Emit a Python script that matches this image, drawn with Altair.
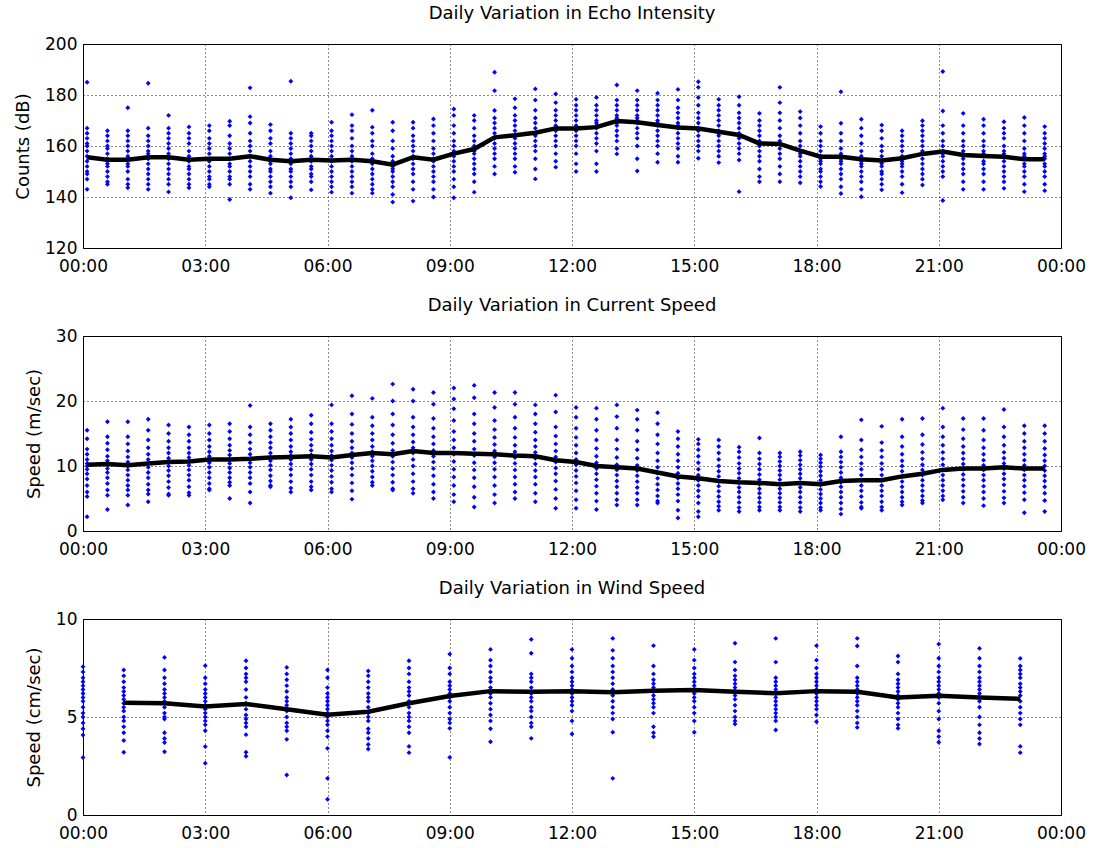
import altair as alt
import pandas as pd

# ---------------- data ----------------
x_ticks = [0, 3, 6, 9, 12, 15, 18, 21, 24]

half_hours = [0.1, 0.6, 1.1, 1.6, 2.1, 2.6, 3.1, 3.6, 4.1, 4.6, 5.1, 5.6,
              6.1, 6.6, 7.1, 7.6, 8.1, 8.6, 9.1, 9.6, 10.1, 10.6, 11.1, 11.6,
              12.1, 12.6, 13.1, 13.6, 14.1, 14.6, 15.1, 15.6, 16.1, 16.6, 17.1, 17.6,
              18.1, 18.6, 19.1, 19.6, 20.1, 20.6, 21.1, 21.6, 22.1, 22.6, 23.1, 23.6]

hours = [0, 1, 2, 3, 4, 5, 6, 7, 8, 9, 10, 11, 12, 13, 14, 15, 16, 17, 18, 19, 20, 21, 22, 23]

# Echo intensity (dB)
echo_mean = [155.6, 154.6, 154.6, 155.6, 155.6, 154.6, 155.0, 155.0, 156.0, 154.6, 154.0, 154.6,
             154.3, 154.6, 154.0, 152.7, 155.6, 154.6, 157.0, 158.8, 163.4, 164.2, 165.2, 166.9,
             166.9, 167.4, 169.8, 169.3, 168.2, 167.3, 166.9, 165.6, 164.3, 161.0, 160.8, 158.2,
             155.8, 155.8, 154.8, 154.3, 155.2, 156.9, 157.8, 156.5, 156.1, 155.8, 154.8, 154.8]

echo_points = [
    [185, 167, 165, 163, 161, 160, 158, 156, 154, 152, 150, 149, 147, 143],
    [166, 164, 162, 160, 159, 157, 155, 154, 153, 152, 150, 148, 146, 145],
    [175, 166, 164, 162, 160, 158, 156, 155, 153, 152, 150, 147, 145, 143.6],
    [184.6, 167, 164, 162, 160, 158, 157, 155, 153, 151, 149, 147, 145, 143],
    [172, 167, 165, 163, 161, 159, 157, 155, 153, 151, 149, 147, 145, 142],
    [167.5, 165, 163, 161, 158, 156, 155, 154, 152, 151, 149, 147, 145, 143.6],
    [168, 166, 163, 161, 159, 157, 155, 154, 152, 150, 148, 147, 145, 144],
    [169.7, 168, 164, 161, 159, 157, 155, 153, 152, 150, 148, 147, 145, 139],
    [182.8, 171.5, 169, 165, 162, 160, 158, 156, 154, 152, 150, 148, 145, 143],
    [168.4, 166, 163, 161, 158, 156, 154, 153, 151, 150, 148, 146, 144, 141.5],
    [185.4, 165, 163, 161, 159, 157, 155, 153, 151, 150, 148, 146, 144, 139.7],
    [165, 164, 162, 160, 158, 156, 155, 154, 152, 151, 149, 148, 146, 142.8],
    [169.3, 166, 164, 162, 160, 158, 156, 154, 152, 150, 148, 146, 144, 141.9],
    [172.3, 168, 166, 163, 160, 158, 156, 154, 152, 150, 148, 146, 144, 141.5],
    [174, 167.4, 165, 162, 160, 157, 155, 153, 151, 149, 147, 145, 143, 141.5],
    [169.3, 166, 162, 159, 156, 154, 152, 151, 150, 148, 146, 144, 141, 138],
    [169.3, 167, 164, 162, 160, 158, 156, 155, 153, 151, 149, 146, 143, 138.4],
    [170.6, 168, 165, 162, 159, 157, 155, 154, 152, 150, 148, 146, 143, 140],
    [174.5, 172, 168, 165, 162, 160, 158, 156, 154, 152, 150, 147, 144, 139.7],
    [172, 170, 167, 164, 162, 160, 158, 157, 155, 153, 151, 149, 146, 141.9],
    [188.9, 181.7, 173.9, 171, 169, 167, 165, 163, 161, 159, 157, 155, 152, 149],
    [178.5, 175, 172, 170, 168, 166, 164, 163, 161, 159, 157, 155, 152, 149.7],
    [182.4, 178, 174, 171, 169, 167, 165, 164, 162, 160, 158, 155, 151, 147.1],
    [180.4, 177, 174, 172, 170, 168, 167, 166, 164, 162, 160, 157, 154, 151.7],
    [178.3, 176, 174, 172, 170, 168, 167, 166, 164, 162, 160, 157, 153, 150],
    [179, 176, 174, 172, 170, 169, 168, 167, 165, 163, 161, 158, 153, 150],
    [183.9, 178, 176, 174, 172, 171, 170, 169, 168, 166, 164, 162, 159, 156.9],
    [181.7, 178, 176, 174, 172, 171, 170, 169, 167, 165, 163, 160, 155, 150.2],
    [180.7, 178, 176, 174, 172, 170, 169, 168, 166, 164, 162, 160, 157, 153.6],
    [182.2, 178, 175, 173, 171, 169, 168, 167, 165, 163, 161, 159, 156, 153.6],
    [185.2, 183, 179, 176, 173, 171, 169, 167, 166, 164, 162, 160, 158, 155.2],
    [178.3, 176, 174, 172, 170, 168, 166, 165, 164, 162, 160, 158, 156, 153.5],
    [179.3, 176, 173, 171, 169, 167, 165, 164, 163, 161, 159, 157, 154.5, 142.1],
    [172.8, 170, 168, 166, 164, 162, 161, 160, 158, 156, 154, 151, 148, 146],
    [183, 177, 173, 170, 167, 164, 162, 161, 159, 157, 155, 152, 149, 146],
    [173.5, 171, 168, 165, 162, 160, 158, 157, 156, 154, 152, 150, 148, 145.6],
    [167.6, 165, 162, 160, 158, 156, 155, 154, 153, 151, 150, 148, 146, 144.1],
    [181.3, 168.9, 165, 162, 159, 157, 155, 154, 153, 151, 149, 147, 144, 141.4],
    [170.5, 167, 164, 161, 158, 156, 154, 153, 152, 150, 148, 146, 143, 140.1],
    [168.2, 166, 163, 160, 158, 156, 154, 153, 152, 150, 149, 147, 145, 142.8],
    [166, 164, 162, 160, 158, 156, 155, 154, 153, 152, 150, 148, 145, 141.7],
    [169.9, 168, 166, 164, 162, 160, 158, 157, 155, 153, 151, 149, 147, 144.7],
    [189.2, 173.7, 168, 165, 162, 160, 158, 157, 156, 154, 152, 150, 148, 138.6],
    [172.8, 168, 165, 162, 160, 158, 157, 156, 155, 153, 151, 149, 146, 143],
    [170.5, 168, 165, 162, 160, 158, 157, 156, 154, 153, 151, 149, 146, 143],
    [169.5, 167, 165, 163, 160, 158, 157, 156, 154, 152, 150, 148, 146, 143.4],
    [171.2, 168, 165, 162, 159, 157, 156, 155, 153, 152, 150, 148, 145, 142.1],
    [167.6, 165, 163, 161, 159, 157, 156, 155, 153, 152, 150, 148, 145, 142.5],
]

# Current speed (m/sec)
current_mean = [10.2, 10.3, 10.1, 10.4, 10.6, 10.7, 11.0, 11.0, 11.1, 11.3, 11.4, 11.5,
                11.3, 11.7, 12.0, 11.8, 12.3, 12.0, 12.0, 11.9, 11.8, 11.6, 11.5, 10.9,
                10.6, 10.0, 9.8, 9.6, 9.0, 8.4, 8.1, 7.7, 7.5, 7.4, 7.2, 7.4,
                7.2, 7.7, 7.8, 7.8, 8.4, 8.8, 9.4, 9.6, 9.6, 9.8, 9.6, 9.6]

current_points = [
    [15.5, 14.2, 12.6, 11.8, 11, 10.4, 10, 9.5, 8.8, 8, 7, 6, 5.3, 2.2],
    [16.8, 14.5, 13.5, 12.5, 11.5, 10.8, 10.2, 9.6, 9, 8.2, 7.3, 6.3, 5.5, 3.3],
    [16.8, 14.5, 13.4, 12.3, 11.4, 10.6, 10, 9.4, 8.6, 7.8, 7, 6.3, 5.5, 4],
    [17.2, 15.5, 14, 12.8, 11.8, 11, 10.4, 9.8, 9, 8.2, 7.2, 6.3, 5.7, 4.5],
    [16.3, 15, 13.8, 12.8, 12, 11.2, 10.6, 10, 9.3, 8.5, 7.6, 6.7, 5.7, 5.5],
    [16, 14.8, 13.8, 12.8, 12, 11.3, 10.7, 10.1, 9.4, 8.6, 7.8, 6.8, 5.9, 5.5],
    [16.3, 15, 14, 13, 12.2, 11.5, 11, 10.5, 9.8, 9, 8.2, 7.3, 6.5, 6.3],
    [16.5, 15.3, 14.2, 13.2, 12.4, 11.7, 11, 10.4, 9.7, 9, 8.2, 7.5, 7, 5],
    [19.3, 16, 14.8, 13.6, 12.6, 11.8, 11.1, 10.5, 9.8, 9, 8.2, 7.3, 6, 4.3],
    [16.5, 15.5, 14.5, 13.6, 12.8, 12, 11.4, 10.8, 10.1, 9.4, 8.5, 7.7, 7, 6.8],
    [17.2, 16, 15, 14, 13, 12.2, 11.6, 11, 10.3, 9.5, 8.6, 7.6, 6.6, 6],
    [17.8, 16.5, 15.2, 14.1, 13.2, 12.4, 11.7, 11, 10.3, 9.5, 8.6, 7.6, 6.8, 6.3],
    [19.4, 16.5, 15.3, 14.2, 13.2, 12.3, 11.6, 10.9, 10.1, 9.3, 8.4, 7.5, 6.5, 6],
    [20.8, 18, 16.4, 15, 13.8, 12.8, 12, 11.3, 10.5, 9.6, 8.6, 7.4, 6.2, 4.9],
    [20.4, 17.5, 16.2, 15, 14, 13, 12.2, 11.5, 10.8, 10, 9.2, 8.3, 7.5, 7],
    [22.6, 20, 18, 16.3, 14.8, 13.5, 12.4, 11.5, 10.6, 9.6, 8.6, 7.5, 6.5, 6.3],
    [21.8, 20, 17.5, 16, 14.8, 13.7, 12.8, 12, 11, 10, 8.8, 7.6, 6.5, 5.8],
    [21.3, 19.5, 17.3, 15.8, 14.5, 13.4, 12.4, 11.5, 10.6, 9.6, 8.5, 7.2, 6, 5],
    [22, 20.3, 18.8, 17, 15.3, 14, 12.8, 11.8, 10.7, 9.5, 8.3, 7, 5.6, 4.5],
    [22.4, 20.5, 18, 16.5, 15, 13.8, 12.6, 11.6, 10.5, 9.4, 8.2, 6.8, 5.2, 3.7],
    [21.3, 19, 17, 15.6, 14.4, 13.3, 12.3, 11.4, 10.5, 9.5, 8.3, 7, 5.6, 4.3],
    [21.3, 19.5, 17.5, 15.8, 14.4, 13.2, 12.2, 11.3, 10.4, 9.4, 8.3, 7.2, 6, 5],
    [19.4, 18, 16.5, 15.2, 14, 13, 12.1, 11.2, 10.3, 9.3, 8.3, 7.2, 5.8, 4.5],
    [20.9, 18.3, 16, 14.6, 13.4, 12.3, 11.4, 10.6, 9.7, 8.8, 7.7, 6.4, 5, 3.5],
    [19, 17.5, 15.8, 14.4, 13.2, 12, 11, 10.2, 9.3, 8.4, 7.4, 6.2, 4.8, 3.5],
    [18.9, 17.2, 15.5, 14, 12.7, 11.5, 10.5, 9.6, 8.8, 7.9, 6.9, 5.8, 4.6, 3.3],
    [19.4, 17.6, 15.8, 14, 12.6, 11.3, 10.2, 9.4, 8.6, 7.7, 6.8, 5.8, 4.8, 4],
    [18.6, 17.2, 15.5, 13.8, 12.5, 11.2, 10.1, 9.3, 8.5, 7.6, 6.7, 5.8, 4.8, 4],
    [18.2, 16.5, 14.8, 13.4, 12, 10.8, 9.8, 8.9, 8.1, 7.2, 6.3, 5.4, 4.6, 4.3],
    [15.3, 14.2, 13, 11.8, 10.8, 9.8, 8.9, 8.1, 7.3, 6.5, 5.6, 4.6, 3.2, 2],
    [14.1, 13.4, 12.5, 11.5, 10.5, 9.5, 8.6, 7.8, 7, 6.2, 5.3, 4.3, 3, 2.2],
    [14, 13, 12, 11, 10, 9.2, 8.4, 7.6, 6.9, 6.1, 5.3, 4.5, 3.8, 3.2],
    [12.9, 12.2, 11.3, 10.4, 9.6, 8.9, 8.1, 7.4, 6.7, 6, 5.2, 4.4, 3.6, 3],
    [14.3, 12, 11.1, 10.3, 9.5, 8.7, 7.9, 7.2, 6.5, 5.8, 5.1, 4.4, 3.7, 3.2],
    [12, 11.4, 10.7, 10, 9.3, 8.6, 7.9, 7.2, 6.5, 5.8, 5.1, 4.4, 3.7, 3.2],
    [12.2, 11.6, 10.9, 10.2, 9.5, 8.8, 8.1, 7.4, 6.7, 6, 5.2, 4.4, 3.6, 3],
    [11.7, 11.1, 10.5, 9.9, 9.2, 8.5, 7.8, 7.1, 6.4, 5.7, 5, 4.3, 3.6, 3.2],
    [14.5, 12.2, 11.4, 10.6, 9.8, 9, 8.2, 7.5, 6.8, 6, 5.2, 4.3, 3.4, 2.6],
    [17.1, 14, 12.5, 11.4, 10.4, 9.5, 8.6, 7.8, 7, 6.2, 5.3, 4.4, 3.7, 3.5],
    [16.1, 13.6, 12.4, 11.4, 10.4, 9.5, 8.6, 7.8, 7, 6.2, 5.4, 4.5, 3.7, 3.2],
    [17.2, 14.5, 13, 11.8, 10.8, 10, 9.2, 8.4, 7.6, 6.8, 6, 5.2, 4.5, 4],
    [17.3, 14.8, 13.3, 12.1, 11.1, 10.2, 9.4, 8.6, 7.8, 7, 6.2, 5.4, 4.7, 4.3],
    [18.9, 16, 14.5, 13.2, 12.1, 11.1, 10.2, 9.4, 8.6, 7.8, 7, 6.2, 5.4, 4.8],
    [17.3, 15.6, 14.2, 13, 12, 11.1, 10.3, 9.5, 8.7, 7.9, 7, 6.1, 5.2, 4.3],
    [17.3, 15.5, 14, 12.8, 11.8, 10.9, 10.1, 9.4, 8.6, 7.8, 6.9, 6, 5, 3.9],
    [18.7, 16, 14.5, 13.2, 12.1, 11.2, 10.4, 9.6, 8.8, 8, 7.1, 6.1, 5.1, 4.3],
    [16.2, 15, 13.8, 12.8, 11.8, 10.9, 10.1, 9.4, 8.6, 7.8, 6.9, 5.9, 4.8, 2.8],
    [16.2, 15, 13.8, 12.7, 11.7, 10.8, 10, 9.3, 8.5, 7.7, 6.8, 5.8, 4.7, 3],
]

# Wind speed (cm/sec)
wind_mean_hours = [1, 2, 3, 4, 5, 6, 7, 8, 9, 10, 11, 12, 13, 14, 15, 16, 17, 18, 19, 20, 21, 22, 23]
wind_mean = [5.73, 5.70, 5.53, 5.66, 5.40, 5.12, 5.27, 5.70, 6.07, 6.32, 6.29, 6.32, 6.26,
             6.34, 6.38, 6.29, 6.21, 6.32, 6.29, 6.00, 6.09, 6.00, 5.93]

wind_points = [
    [7.57, 7.3, 7.0, 6.8, 6.6, 6.4, 6.2, 6.0, 5.8, 5.5, 5.2, 5.0, 4.7, 4.4, 4.08, 2.93],
    [7.4, 7.1, 6.8, 6.5, 6.3, 6.1, 5.9, 5.7, 5.5, 5.3, 5.0, 4.8, 4.5, 4.2, 3.8, 3.2],
    [8.04, 7.4, 7.0, 6.7, 6.4, 6.2, 6.0, 5.8, 5.5, 5.2, 5.0, 4.9, 4.2, 3.9, 3.7, 3.23],
    [7.62, 7.0, 6.7, 6.4, 6.2, 6.0, 5.8, 5.6, 5.4, 5.2, 5.0, 4.8, 4.6, 4.3, 3.49, 2.64],
    [7.87, 7.5, 7.2, 7.0, 6.8, 6.4, 6.0, 5.7, 5.4, 5.1, 4.9, 4.7, 4.5, 4.1, 3.2, 3.0],
    [7.53, 7.2, 6.9, 6.6, 6.3, 6.0, 5.8, 5.6, 5.3, 5.0, 4.7, 4.5, 4.3, 3.86, 2.04],
    [7.4, 7.0, 6.5, 6.2, 6.0, 5.8, 5.6, 5.4, 5.2, 5.0, 4.8, 4.6, 4.3, 4.0, 3.4, 1.87, 0.8],
    [7.35, 7.1, 6.8, 6.5, 6.2, 6.0, 5.8, 5.5, 5.2, 5.0, 4.8, 4.4, 4.2, 3.9, 3.6, 3.37],
    [7.87, 7.5, 7.2, 6.8, 6.5, 6.3, 6.1, 5.8, 5.5, 5.2, 5.0, 4.8, 4.5, 4.2, 3.5, 3.18],
    [8.21, 7.5, 7.2, 6.8, 6.6, 6.4, 6.2, 6.0, 5.8, 5.5, 5.2, 4.9, 4.7, 4.42, 2.94],
    [8.45, 7.9, 7.6, 7.3, 7.0, 6.8, 6.5, 6.2, 6.0, 5.7, 5.4, 5.1, 4.8, 4.4, 3.74],
    [8.96, 8.25, 7.2, 7.0, 6.8, 6.5, 6.2, 6.0, 5.8, 5.5, 5.3, 5.0, 4.7, 4.5, 3.91],
    [8.45, 8.0, 7.6, 7.3, 7.0, 6.8, 6.6, 6.4, 6.2, 6.0, 5.8, 5.6, 5.3, 4.8, 4.13],
    [9.01, 8.4, 8.0, 7.6, 7.3, 7.0, 6.7, 6.4, 6.1, 5.8, 5.5, 5.2, 4.9, 4.22, 1.87],
    [8.64, 7.6, 7.2, 6.9, 6.7, 6.5, 6.3, 6.1, 5.9, 5.7, 5.5, 5.2, 4.5, 4.2, 3.99],
    [8.45, 7.9, 7.5, 7.2, 7.0, 6.8, 6.6, 6.4, 6.2, 6.0, 5.8, 5.5, 5.2, 4.8, 4.22],
    [8.76, 7.8, 7.4, 7.1, 6.9, 6.7, 6.5, 6.3, 6.1, 5.9, 5.6, 5.3, 5.0, 4.8, 4.64],
    [9.01, 7.8, 7.0, 6.8, 6.6, 6.4, 6.2, 6.0, 5.8, 5.6, 5.4, 5.2, 5.0, 4.8, 4.34],
    [8.64, 7.9, 7.5, 7.2, 7.0, 6.8, 6.6, 6.4, 6.2, 6.0, 5.8, 5.6, 5.4, 5.1, 4.76],
    [9.01, 8.62, 7.6, 7.0, 6.8, 6.6, 6.4, 6.2, 6.0, 5.8, 5.6, 5.3, 5.0, 4.7, 4.47],
    [8.11, 7.8, 7.2, 6.9, 6.7, 6.5, 6.3, 6.1, 5.9, 5.7, 5.5, 5.2, 4.9, 4.6, 4.42],
    [8.72, 8.0, 7.6, 7.3, 7.0, 6.8, 6.6, 6.4, 6.2, 6.0, 5.7, 5.3, 4.9, 4.3, 4.0, 3.71],
    [8.5, 8.0, 7.6, 7.3, 7.0, 6.8, 6.6, 6.4, 6.2, 6.0, 5.8, 5.5, 5.0, 4.6, 4.2, 3.9, 3.62],
    [7.99, 7.6, 7.4, 7.2, 7.0, 6.7, 6.5, 6.3, 6.1, 5.8, 5.5, 5.2, 4.9, 4.6, 3.5, 3.18],
]

titles = ["Daily Variation in Echo Intensity",
          "Daily Variation in Current Speed",
          "Daily Variation in Wind Speed"]
y_titles = ["Counts (dB)", "Speed (m/sec)", "Speed (cm/sec)"]
y_domains = [[120, 200], [0, 30], [0, 10]]
y_ticks = [[120, 140, 160, 180, 200], [0, 10, 20, 30], [0, 5, 10]]

# ---------------- chart ----------------
FONT = "DejaVu Sans"
LABEL_EXPR = "(datum.value % 24 < 10 ? '0' : '') + (datum.value % 24) + ':00'"


def panel(xs, pts, mean_x, mean_y, ydom, yt, ytitle, title, height):
    rows = []
    for h, vals in zip(xs, pts):
        for v in vals:
            rows.append({"hour": h, "value": v})
    pdf = pd.DataFrame(rows)
    mdf = pd.DataFrame({"hour": mean_x, "value": mean_y})

    x = alt.X("hour:Q",
              scale=alt.Scale(domain=[0, 24], nice=False, zero=False),
              axis=alt.Axis(values=x_ticks, labelExpr=LABEL_EXPR, title=None,
                            grid=True, gridDash=[1, 3], gridColor="#000000",
                            gridOpacity=0.9, ticks=False, labelPadding=10,
                            labelFont=FONT, labelFontSize=17, labelColor="#000000",
                            domainColor="#000000", labelFlush=False))
    y = alt.Y("value:Q",
              scale=alt.Scale(domain=ydom, nice=False, zero=False),
              axis=alt.Axis(values=yt, title=ytitle, grid=True, gridDash=[1, 3],
                            gridColor="#000000", gridOpacity=0.9, ticks=False,
                            labelPadding=6, labelFont=FONT, labelFontSize=17,
                            labelColor="#000000", titleFont=FONT, titleFontSize=18,
                            titleFontWeight="normal", titleColor="#000000",
                            titlePadding=12, domainColor="#000000", labelFlush=False))

    scatter = alt.Chart(pdf).mark_point(shape="diamond", filled=True, size=24,
                                        color="#0000ff", opacity=1).encode(x=x, y=y)
    line = alt.Chart(mdf).mark_line(color="#000000", strokeWidth=4.5).encode(
        x="hour:Q", y="value:Q")
    return alt.layer(scatter, line).properties(
        width=978, height=height,
        title=alt.TitleParams(title, font=FONT, fontSize=18, fontWeight="normal",
                              color="#000000", offset=12, anchor="middle"))


p1 = panel(half_hours, echo_points, half_hours, echo_mean, y_domains[0], y_ticks[0],
           y_titles[0], titles[0], 204)
p2 = panel(half_hours, current_points, half_hours, current_mean, y_domains[1], y_ticks[1],
           y_titles[1], titles[1], 195)
p3 = panel(hours, wind_points, wind_mean_hours, wind_mean, y_domains[2], y_ticks[2],
           y_titles[2], titles[2], 196)

chart = alt.vconcat(p1, p2, p3, spacing=21).properties(
    padding={"left": 14, "top": 4, "right": 5, "bottom": 0},
    background="#ffffff",
).configure_view(stroke="#000000", strokeWidth=1)

chart.save("out.html", embed_options={"renderer": "svg", "actions": False})
